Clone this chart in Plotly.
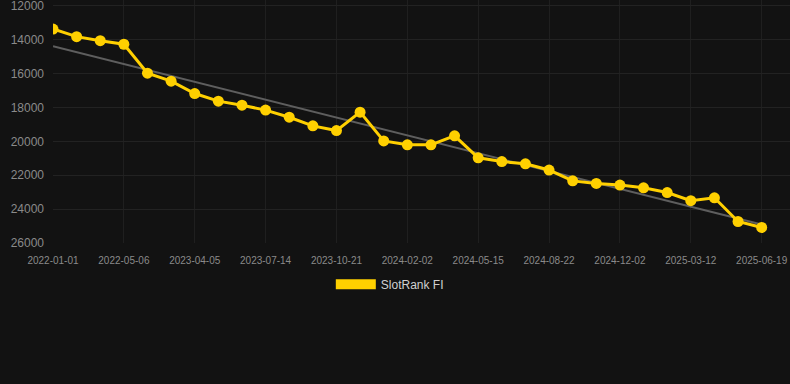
import numpy as np
import plotly.graph_objects as go

dates = [
    "2022-01-01", "2022-02-12", "2022-03-26", "2022-05-06", "2022-08-15", "2022-12-20",
    "2023-04-05", "2023-05-08", "2023-06-10", "2023-07-14", "2023-08-16", "2023-09-18",
    "2023-10-21", "2023-11-25", "2023-12-29", "2024-02-02", "2024-03-06", "2024-04-10",
    "2024-05-15", "2024-06-17", "2024-07-20", "2024-08-22", "2024-09-25", "2024-10-29",
    "2024-12-02", "2025-01-04", "2025-02-07", "2025-03-12", "2025-04-14", "2025-05-17",
    "2025-06-19",
]
rank = [
    13360, 13810, 14050, 14260, 15970, 16440, 17170, 17620, 17860, 18150, 18570,
    19080, 19360, 18270, 19970, 20200, 20200, 19670, 20970, 21190, 21320, 21690,
    22330, 22480, 22580, 22740, 23020, 23500, 23330, 24730, 25080,
]
tick_labels = dates[::3]
y_ticks = [12000, 14000, 16000, 18000, 20000, 22000, 24000, 26000]
series_name = "SlotRank FI"

# least-squares trend line through the series
idx = np.arange(len(rank))
slope, intercept = np.polyfit(idx, rank, 1)
trend = [slope * i + intercept for i in idx]

GOLD = "#FFD000"
BG = "#121212"

fig = go.Figure()
fig.add_trace(go.Scatter(
    x=dates, y=trend, mode="lines",
    line=dict(color="#5e5e5e", width=2),
    showlegend=False, hoverinfo="skip",
))
fig.add_trace(go.Scatter(
    x=dates, y=rank, mode="lines+markers",
    line=dict(color=GOLD, width=3),
    marker=dict(color=GOLD, size=11),
    showlegend=False, name=series_name,
))
# legend swatch
fig.add_trace(go.Scatter(
    x=[None], y=[None], mode="lines",
    line=dict(color=GOLD, width=11),
    name=series_name, showlegend=True,
))

fig.update_layout(
    width=790, height=384,
    paper_bgcolor=BG, plot_bgcolor=BG,
    margin=dict(l=53, r=0, t=0, b=141),
    font=dict(family="Liberation Sans, Arial, sans-serif", color="#8a8a8a"),
    showlegend=True,
    legend=dict(
        orientation="h", x=0.457, xanchor="center",
        y=-0.17, yanchor="middle",
        font=dict(size=12, color="#d0d0d0"), itemwidth=40,
        bgcolor="rgba(0,0,0,0)",
    ),
    xaxis=dict(
        type="category", range=[0, 31.2],
        tickmode="array", tickvals=tick_labels, ticktext=tick_labels,
        showgrid=True, gridcolor="#1f1f1f", gridwidth=1,
        zeroline=False, showline=False, ticks="outside", ticklen=8, tickcolor=BG,
        tickfont=dict(size=10, color="#8a8a8a"), ticklabeloverflow="allow",
    ),
    yaxis=dict(
        range=[26000, 11646], tickvals=y_ticks, tickformat="d",
        showgrid=True, gridcolor="#222222", gridwidth=1,
        zeroline=False, showline=False, ticks="",
        tickfont=dict(size=12, color="#8a8a8a"),
        ticklabelstandoff=8, ticklabeloverflow="allow",
    ),
)

fig.write_html(
    "out.html",
    config={"displayModeBar": False},
    post_script="document.body.style.margin='0';document.body.style.background='#121212';",
)
